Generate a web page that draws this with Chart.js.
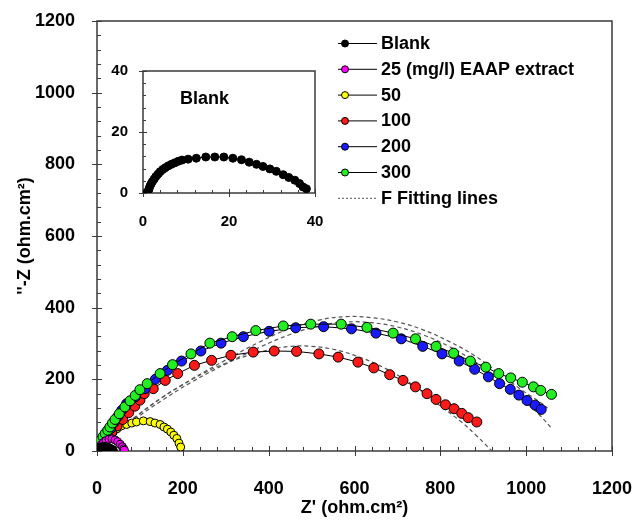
<!DOCTYPE html>
<html><head><meta charset="utf-8">
<script src="https://cdn.jsdelivr.net/npm/chart.js@4.4.1/dist/chart.umd.min.js"></script>
<style>
html,body{margin:0;padding:0;background:#fff;}
#wrap{position:relative;width:634px;height:521px;background:#fff;}
#main{position:absolute;left:0;top:0;}
#inset{position:absolute;left:100px;top:55px;}
</style></head><body>
<div id="wrap"><canvas id="main" width="634" height="521"></canvas><canvas id="inset" width="240" height="180"></canvas></div>
<script>
// ---------- data ----------
const xTitle = "Z' (ohm.cm²)";
const yTitle = "''-Z (ohm.cm²)";
const mainTickValues = [0, 200, 400, 600, 800, 1000, 1200];
const insetTickValues = [0, 20, 40];
const legendLabels = ["Blank", "25 (mg/l) EAAP extract", "50", "100", "200", "300", "F Fitting lines"];
const insetLabel = "Blank";

const blankRe = [1.0,1.2,1.4,1.6,1.9,2.2,2.6,3.0,3.5,4.0,4.6,5.2,5.9,6.6,7.4,8.2,9.1,10.5,12.4,14.6,16.7,18.8,20.9,22.9,24.7,26.4,27.9,29.5,31.0,32.6,33.9,35.3,36.4,37.2,38.0];
const blankIm = [0.2,0.6,1.3,2.2,3.0,3.8,4.6,5.4,6.2,7.0,7.7,8.3,8.9,9.4,9.9,10.4,10.8,11.1,11.4,11.8,11.8,11.8,11.4,10.9,10.1,9.4,8.7,7.9,7.1,6.0,5.1,4.2,3.1,2.0,1.4];

const c25Re = [1,3,6,10,15,21,28,35,42,48,54,59,62,64];
const c25Im = [1,6,12,18,24,29,33,34,31,26,19,12,6,2];

const c50Re = [1,4,8,13,19,25,30,38,46,57,69,81,92,108,124,135,147,156,164,172,179,186,191,195];
const c50Im = [1,6,12,18,24,31,39,53,62,70,74,78,81,84,82,78,74,67,61,53,44,35,22,11];

const c100Re = [5,12,22,34,47,60,74,88,100,110,131,159,188,227,267,312,364,413,465,517,562,608,645,682,713,742,769,790,812,832,850,865,885];
const c100Im = [8,20,35,52,70,88,107,125,142,160,174,197,216,239,253,267,276,279,278,271,262,248,232,213,197,179,160,144,129,118,105,93,81];

const c200Re = [2,6,11,17,24,32,40,49,58,69,89,112,136,164,197,242,289,341,401,463,528,593,650,709,759,804,844,880,912,938,963,983,1002,1021,1035];
const c200Im = [4,12,22,34,48,63,80,97,114,132,151,174,200,225,251,279,301,319,334,344,347,341,329,313,292,271,251,228,207,188,172,156,141,128,116];

const c300Re = [2,5,9,14,19,25,30,36,42,52,65,77,89,100,117,147,176,219,263,315,370,434,498,569,629,690,742,790,831,870,906,936,964,991,1017,1034,1059];
const c300Im = [5,15,30,40,49,58,67,78,88,104,123,140,155,171,188,216,241,271,301,319,336,349,354,354,345,329,313,292,273,251,234,216,204,192,179,169,158];

const fit50Re = [0,10,25,45,70,100,130,155,175,188,196,198];
const fit50Im = [0,20,40,58,70,76,74,66,52,35,15,0];
const fit100Re = [0,20,50,100,150,200,250,300,350,400,450,500,550,600,650,700,750,800,850,885,920];
const fit100Im = [0,25,58,105,148,185,218,245,266,282,292,292,284,267,243,212,172,126,80,42,0];
const fit200Re = [0,40,90,150,220,300,380,450,520,580,640,700,760,820,880,940,990,1030,1062];
const fit200Im = [0,42,90,140,192,243,290,325,350,360,358,346,324,292,250,198,146,102,60];
const fit300Re = [0,40,90,150,220,300,380,450,520,580,640,700,760,820,880,940,990,1030,1050];
const fit300Im = [0,45,95,148,200,254,305,342,366,375,372,360,338,306,266,214,170,138,120];

// ---------- helpers ----------
const pts = (xs, ys) => xs.map((v, i) => ({x: v, y: ys[i]}));
const FONT = "'Liberation Sans', Arial, sans-serif";
const COLORS = {blank:'#000000', c25:'#ff00ff', c50:'#ffff00', c100:'#ff1a1a', c200:'#1a1aff', c300:'#22ee22', fit:'#555555'};

function series(label, xs, ys, color, r, order) {
  return {label, data: pts(xs, ys), showLine: true, borderColor: '#000', borderWidth: 1,
    pointBackgroundColor: color, pointBorderColor: '#000', pointBorderWidth: 1,
    pointRadius: r, pointStyle: 'circle', order};
}
function fitSeries(xs, ys) {
  return {label: 'fit', data: pts(xs, ys), showLine: true, borderColor: COLORS.fit, borderWidth: 1.2,
    borderDash: [4, 3], pointRadius: 0, tension: 0.4, order: 10};
}

const frameTicks = {
  id: 'frameTicks',
  beforeDatasetsDraw(chart, args, o) {
    const {ctx, chartArea: a, scales: {x, y}} = chart;
    ctx.save();
    ctx.strokeStyle = '#3a3a3a';
    ctx.lineWidth = o.lw;
    ctx.strokeRect(a.left, a.top, a.right - a.left, a.bottom - a.top);
    ctx.lineWidth = 1;
    const n1 = Math.round((x.max - x.min) / o.minorX);
    for (let i = 0; i <= n1; i++) {
      const v = x.min + i * o.minorX;
      const major = Math.abs(v / o.majorX - Math.round(v / o.majorX)) < 1e-6;
      const px = Math.round(x.getPixelForValue(v)) + 0.5;
      ctx.beginPath();
      ctx.moveTo(px, a.bottom + (major ? o.out : 0));
      ctx.lineTo(px, a.bottom - (major ? o.inMajor : o.inMinor));
      ctx.stroke();
    }
    const n2 = Math.round((y.max - y.min) / o.minorY);
    for (let i = 0; i <= n2; i++) {
      const v = y.min + i * o.minorY;
      const major = Math.abs(v / o.majorY - Math.round(v / o.majorY)) < 1e-6;
      const py = Math.round(y.getPixelForValue(v)) + 0.5;
      ctx.beginPath();
      ctx.moveTo(a.left - (major ? o.out : 0), py);
      ctx.lineTo(a.left + (major ? o.inMajor : o.inMinor), py);
      ctx.stroke();
    }
    ctx.restore();
  }
};

const legendPlugin = {
  id: 'customLegend',
  afterDraw(chart, args, o) {
    if (!o.items) return;
    const ctx = chart.ctx;
    ctx.save();
    ctx.font = 'bold 18px ' + FONT;
    ctx.textBaseline = 'middle';
    ctx.fillStyle = '#000';
    o.items.forEach((it, i) => {
      const yy = o.y0 + i * o.dy;
      ctx.beginPath();
      if (it.dash) { ctx.setLineDash([2, 2]); ctx.strokeStyle = COLORS.fit; } else { ctx.setLineDash([]); ctx.strokeStyle = '#000'; }
      ctx.lineWidth = 1;
      ctx.moveTo(o.x0, yy + 0.5); ctx.lineTo(o.x1, yy + 0.5); ctx.stroke();
      ctx.setLineDash([]);
      if (!it.dash) {
        ctx.beginPath();
        ctx.arc(o.x0 + 7, yy + 0.5, 3.5, 0, Math.PI * 2);
        ctx.fillStyle = it.color; ctx.fill();
        ctx.strokeStyle = '#000'; ctx.stroke();
      }
      ctx.fillStyle = '#000';
      ctx.fillText(it.label, o.tx, yy + 1);
    });
    ctx.restore();
  }
};

const textPlugin = {
  id: 'insetText',
  afterDraw(chart, args, o) {
    if (!o.text) return;
    const ctx = chart.ctx;
    ctx.save();
    ctx.font = 'bold 18px ' + FONT;
    ctx.fillStyle = '#000';
    ctx.textBaseline = 'middle';
    ctx.fillText(o.text, o.x, o.y);
    ctx.restore();
  }
};

Chart.defaults.font.family = FONT;
Chart.defaults.color = '#000';
const plainLabel = v => String(v);
const fitX = h => s => { s.height = h; s.paddingLeft = 0; s.paddingRight = 0; };
const fitY = w => s => { s.width = w; s.paddingTop = 0; s.paddingBottom = 0; };

// ---------- main chart ----------
new Chart(document.getElementById('main'), {
  type: 'scatter',
  data: {datasets: [
    series(legendLabels[0], blankRe, blankIm, COLORS.blank, 4, 0),
    series(legendLabels[1], c25Re, c25Im, COLORS.c25, 4, 1),
    series(legendLabels[5], c300Re, c300Im, COLORS.c300, 5, 2),
    series(legendLabels[4], c200Re, c200Im, COLORS.c200, 5, 3),
    series(legendLabels[3], c100Re, c100Im, COLORS.c100, 5, 4),
    series(legendLabels[2], c50Re, c50Im, COLORS.c50, 4, 5),
    fitSeries(fit50Re, fit50Im),
    fitSeries(fit100Re, fit100Im),
    fitSeries(fit200Re, fit200Im),
    fitSeries(fit300Re, fit300Im)
  ]},
  options: {
    responsive: false, animation: false, devicePixelRatio: 1,
    layout: {padding: {left: 0, right: 22, top: 21, bottom: 0}},
    plugins: {
      legend: {display: false}, tooltip: {enabled: false},
      frameTicks: {lw: 1.5, minorX: 40, majorX: 200, minorY: 40, majorY: 200, out: 5, inMajor: 5, inMinor: 4},
      customLegend: {
        x0: 338, x1: 377, tx: 381, y0: 43, dy: 25.8,
        items: [
          {label: legendLabels[0], color: COLORS.blank},
          {label: legendLabels[1], color: COLORS.c25},
          {label: legendLabels[2], color: COLORS.c50},
          {label: legendLabels[3], color: COLORS.c100},
          {label: legendLabels[4], color: COLORS.c200},
          {label: legendLabels[5], color: COLORS.c300},
          {label: legendLabels[6], dash: true}
        ]
      }
    },
    scales: {
      x: {
        type: 'linear', min: 0, max: 1200,
        afterBuildTicks: s => { s.ticks = mainTickValues.map(v => ({value: v})); },
        afterFit: fitX(70),
        grid: {display: false}, border: {display: false},
        ticks: {padding: 19, font: {size: 18, weight: 'bold'}, color: '#000', maxRotation: 0, callback: plainLabel},
        title: {display: true, text: xTitle, font: {size: 18, weight: 'bold'}, color: '#000', padding: {top: 0, bottom: 2}}
      },
      y: {
        type: 'linear', min: 0, max: 1200,
        afterBuildTicks: s => { s.ticks = mainTickValues.map(v => ({value: v})); },
        afterFit: fitY(97),
        grid: {display: false}, border: {display: false},
        ticks: {padding: 14, font: {size: 18, weight: 'bold'}, color: '#000', callback: plainLabel},
        title: {display: true, text: yTitle, font: {size: 18, weight: 'bold'}, color: '#000', padding: {top: 14, bottom: 0}}
      }
    }
  },
  plugins: [frameTicks, legendPlugin]
});

// ---------- inset chart ----------
new Chart(document.getElementById('inset'), {
  type: 'scatter',
  data: {datasets: [series(legendLabels[0], blankRe, blankIm, COLORS.blank, 4, 0)]},
  options: {
    responsive: false, animation: false, devicePixelRatio: 1,
    layout: {padding: {left: 0, right: 25, top: 16, bottom: 0}},
    plugins: {
      legend: {display: false}, tooltip: {enabled: false},
      frameTicks: {lw: 1.5, minorX: 4, majorX: 20, minorY: 4, majorY: 20, out: 4, inMajor: 4, inMinor: 3},
      insetText: {text: insetLabel, x: 80, y: 44}
    },
    scales: {
      x: {
        type: 'linear', min: 0, max: 40,
        afterBuildTicks: s => { s.ticks = insetTickValues.map(v => ({value: v})); },
        afterFit: fitX(42),
        grid: {display: false}, border: {display: false},
        ticks: {padding: 12, font: {size: 15, weight: 'bold'}, color: '#000', maxRotation: 0, callback: plainLabel}
      },
      y: {
        type: 'linear', min: 0, max: 40,
        afterBuildTicks: s => { s.ticks = insetTickValues.map(v => ({value: v})); },
        afterFit: fitY(43),
        grid: {display: false}, border: {display: false},
        ticks: {padding: 7, font: {size: 15, weight: 'bold'}, color: '#000', callback: plainLabel}
      }
    }
  },
  plugins: [frameTicks, textPlugin]
});
</script>
</body></html>
